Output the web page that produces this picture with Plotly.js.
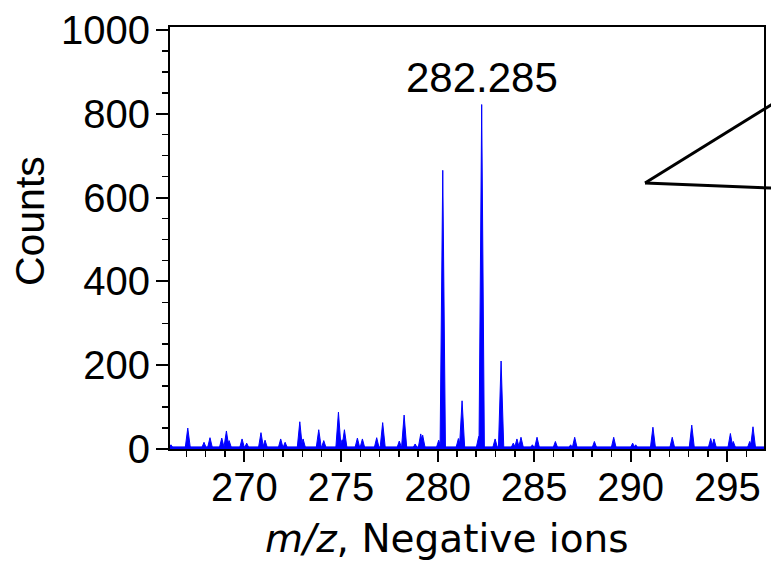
<!DOCTYPE html>
<html>
<head>
<meta charset="utf-8">
<script src="https://cdn.plot.ly/plotly-3.0.1.min.js"></script>
<style>html,body{margin:0;padding:0;background:#fff;}#chart{width:771px;height:565px;}</style>
</head>
<body>
<div id="chart"></div>
<script>
// Peak centroids (m/z) and their heights (counts)
const peakMz = [266.20, 267.07, 267.91, 268.22, 268.83, 269.07, 269.21, 269.88, 270.12, 270.86,
  271.07, 271.88, 272.11, 272.87, 273.04, 273.85, 274.11, 274.87, 275.06, 275.18,
  275.85, 276.11, 276.85, 277.16, 278.02, 278.27, 278.84, 279.13, 279.23, 280.06,
  280.27, 281.08, 281.27, 282.13, 282.285, 282.98, 283.29, 283.92, 284.11, 284.32,
  284.91, 285.15, 286.10, 286.89, 287.10, 288.12, 289.12, 290.10, 290.26, 291.15,
  292.15, 293.16, 294.14, 294.31, 295.16, 295.31, 296.16, 296.33];
const peakCounts = [10, 50, 16, 27, 26, 43, 20, 24, 14, 39,
  21, 24, 16, 65, 24, 46, 20, 88, 22, 46,
  26, 24, 27, 63, 19, 81, 12, 36, 33, 21,
  665, 25, 115, 30, 822, 24, 210, 14, 24, 28,
  10, 28, 18, 10, 28, 18, 28, 14, 10, 52,
  28, 57, 25, 24, 37, 18, 18, 53];
const baselineMz = [266.0, 297.0];
const baselineCounts = [5, 5];
const labelMz = 282.285;
const labelText = "282.285";
const xTitle = '<i>m/z</i>, Negative ions';
const yTitle = 'Counts';

const halfWidth = 0.14;
const px = [], py = [];
peakMz.forEach((m, i) => {
  px.push(m - halfWidth, m, m + halfWidth, null);
  py.push(0, peakCounts[i], 0, null);
});
const labelCounts = peakCounts[peakMz.indexOf(labelMz)];

const blue = '#0000ff';
const traces = [
  {x: baselineMz, y: baselineCounts, type: 'scatter', mode: 'lines', fill: 'tozeroy',
   line: {color: blue, width: 1}, fillcolor: blue, hoverinfo: 'skip', showlegend: false},
  {x: px, y: py, type: 'scatter', mode: 'lines', fill: 'toself', connectgaps: false,
   line: {color: blue, width: 1}, fillcolor: blue, showlegend: false}
];

const arial = 'Liberation Sans, Arial, sans-serif';
const tickFont = {family: arial, size: 40, color: '#000'};
const layout = {
  width: 771, height: 565,
  margin: {l: 170, r: 7, t: 27, b: 116},
  paper_bgcolor: '#fff', plot_bgcolor: '#fff',
  showlegend: false,
  xaxis: {
    range: [266.15, 296.9], showgrid: false, zeroline: false,
    showline: true, linecolor: '#000', linewidth: 2, mirror: true,
    ticks: 'outside', ticklen: 11, tickwidth: 2, tickcolor: '#000',
    tick0: 270, dtick: 5, tickfont: tickFont, ticklabelstandoff: -9,
    minor: {dtick: 1, ticks: 'outside', ticklen: 6, tickwidth: 1.5, tickcolor: '#000', showgrid: false}
  },
  yaxis: {
    range: [0, 1007], showgrid: false, zeroline: false,
    showline: true, linecolor: '#000', linewidth: 2, mirror: true,
    ticks: 'outside', ticklen: 12, tickwidth: 2, tickcolor: '#000',
    tick0: 0, dtick: 200, tickfont: tickFont, ticklabelstandoff: -2,
    minor: {dtick: 50, ticks: 'outside', ticklen: 6, tickwidth: 1.5, tickcolor: '#000', showgrid: false}
  },
  annotations: [
    {x: labelMz, y: labelCounts, xref: 'x', yref: 'y', text: labelText, showarrow: false,
     yanchor: 'bottom', yshift: 2, font: {family: arial, size: 42, color: '#000'}},
    {x: 0.4663, y: -0.211, xref: 'paper', yref: 'paper', text: xTitle, showarrow: false,
     xanchor: 'center', yanchor: 'middle',
     font: {family: 'DejaVu Sans, Verdana, sans-serif', size: 39, color: '#000'}},
    {x: -0.2357, y: 0.54, xref: 'paper', yref: 'paper', text: yTitle, showarrow: false,
     textangle: -90, xanchor: 'center', yanchor: 'middle',
     font: {family: arial, size: 41, color: '#000'}}
  ],
  shapes: [
    {type: 'line', xref: 'paper', yref: 'paper', x0: 0.7997, y0: 0.6303, x1: 1.0185, y1: 0.821,
     line: {color: '#000', width: 3}},
    {type: 'line', xref: 'paper', yref: 'paper', x0: 0.7997, y0: 0.6303, x1: 1.0185, y1: 0.618,
     line: {color: '#000', width: 3}}
  ]
};

Plotly.newPlot('chart', traces, layout, {displayModeBar: false, staticPlot: true});
</script>
</body>
</html>
